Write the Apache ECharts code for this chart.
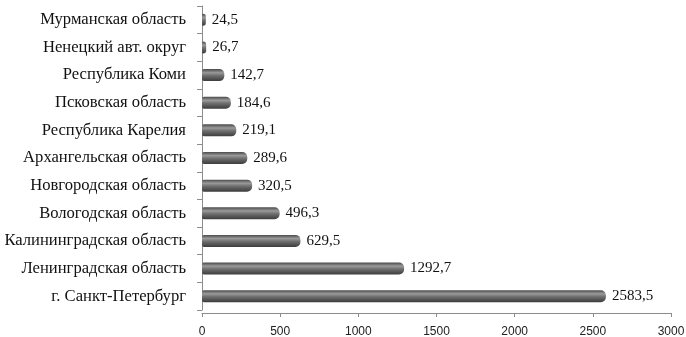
<!DOCTYPE html>
<html>
<head>
<meta charset="utf-8">
<script src="https://cdn.jsdelivr.net/npm/echarts@6/dist/echarts.min.js"></script>
<style>
  html, body { margin: 0; padding: 0; background: #fff; }
  #chart { width: 686px; height: 337px; }
</style>
</head>
<body>
<div id="chart"></div>
<script>
// regions, bottom to top
const regions = [
  'г. Санкт-Петербург',
  'Ленинградская область',
  'Калининградская область',
  'Вологодская область',
  'Новгородская область',
  'Архангельская область',
  'Республика Карелия',
  'Псковская область',
  'Республика Коми',
  'Ненецкий авт. округ',
  'Мурманская область'
];
const values = [2583.5, 1292.7, 629.5, 496.3, 320.5, 289.6, 219.1, 184.6, 142.7, 26.7, 24.5];
const xTicks = [0, 500, 1000, 1500, 2000, 2500, 3000];

const chart = echarts.init(document.getElementById('chart'));

const barColor = new echarts.graphic.LinearGradient(0, 0, 0, 1, [
  { offset: 0, color: '#4a4a4a' },
  { offset: 0.3, color: '#9a9a9a' },
  { offset: 0.55, color: '#6e6e6e' },
  { offset: 1, color: '#3c3c3c' }
]);

chart.setOption({
  animation: false,
  grid: { left: 202, right: 15, top: 6, bottom: 27, containLabel: false, outerBoundsMode: 'none' },
  xAxis: {
    type: 'value',
    min: xTicks[0],
    max: xTicks[xTicks.length - 1],
    interval: 500,
    offset: 3,
    axisLine: { show: true, lineStyle: { color: '#8c8c8c' } },
    axisTick: { show: true, length: 4, lineStyle: { color: '#8c8c8c' } },
    splitLine: { show: false },
    axisLabel: {
      color: '#222',
      fontFamily: 'Liberation Sans',
      fontSize: 12,
      margin: 13,
      formatter: v => String(v)
    }
  },
  yAxis: {
    type: 'category',
    data: regions,
    axisLine: { show: true, lineStyle: { color: '#8c8c8c' } },
    axisTick: { show: true, length: 5, lineStyle: { color: '#8c8c8c' } },
    axisLabel: {
      color: '#111',
      fontFamily: 'Liberation Serif',
      fontSize: 16.6,
      margin: 16
    }
  },
  series: [{
    type: 'bar',
    data: values,
    barWidth: 12,
    itemStyle: {
      color: barColor,
      borderRadius: [2, 5, 5, 2]
    },
    label: {
      show: true,
      position: 'right',
      distance: 6,
      color: '#111',
      fontFamily: 'Liberation Serif',
      fontSize: 15,
      formatter: p => String(p.value).replace('.', ',')
    }
  }]
});
</script>
</body>
</html>
